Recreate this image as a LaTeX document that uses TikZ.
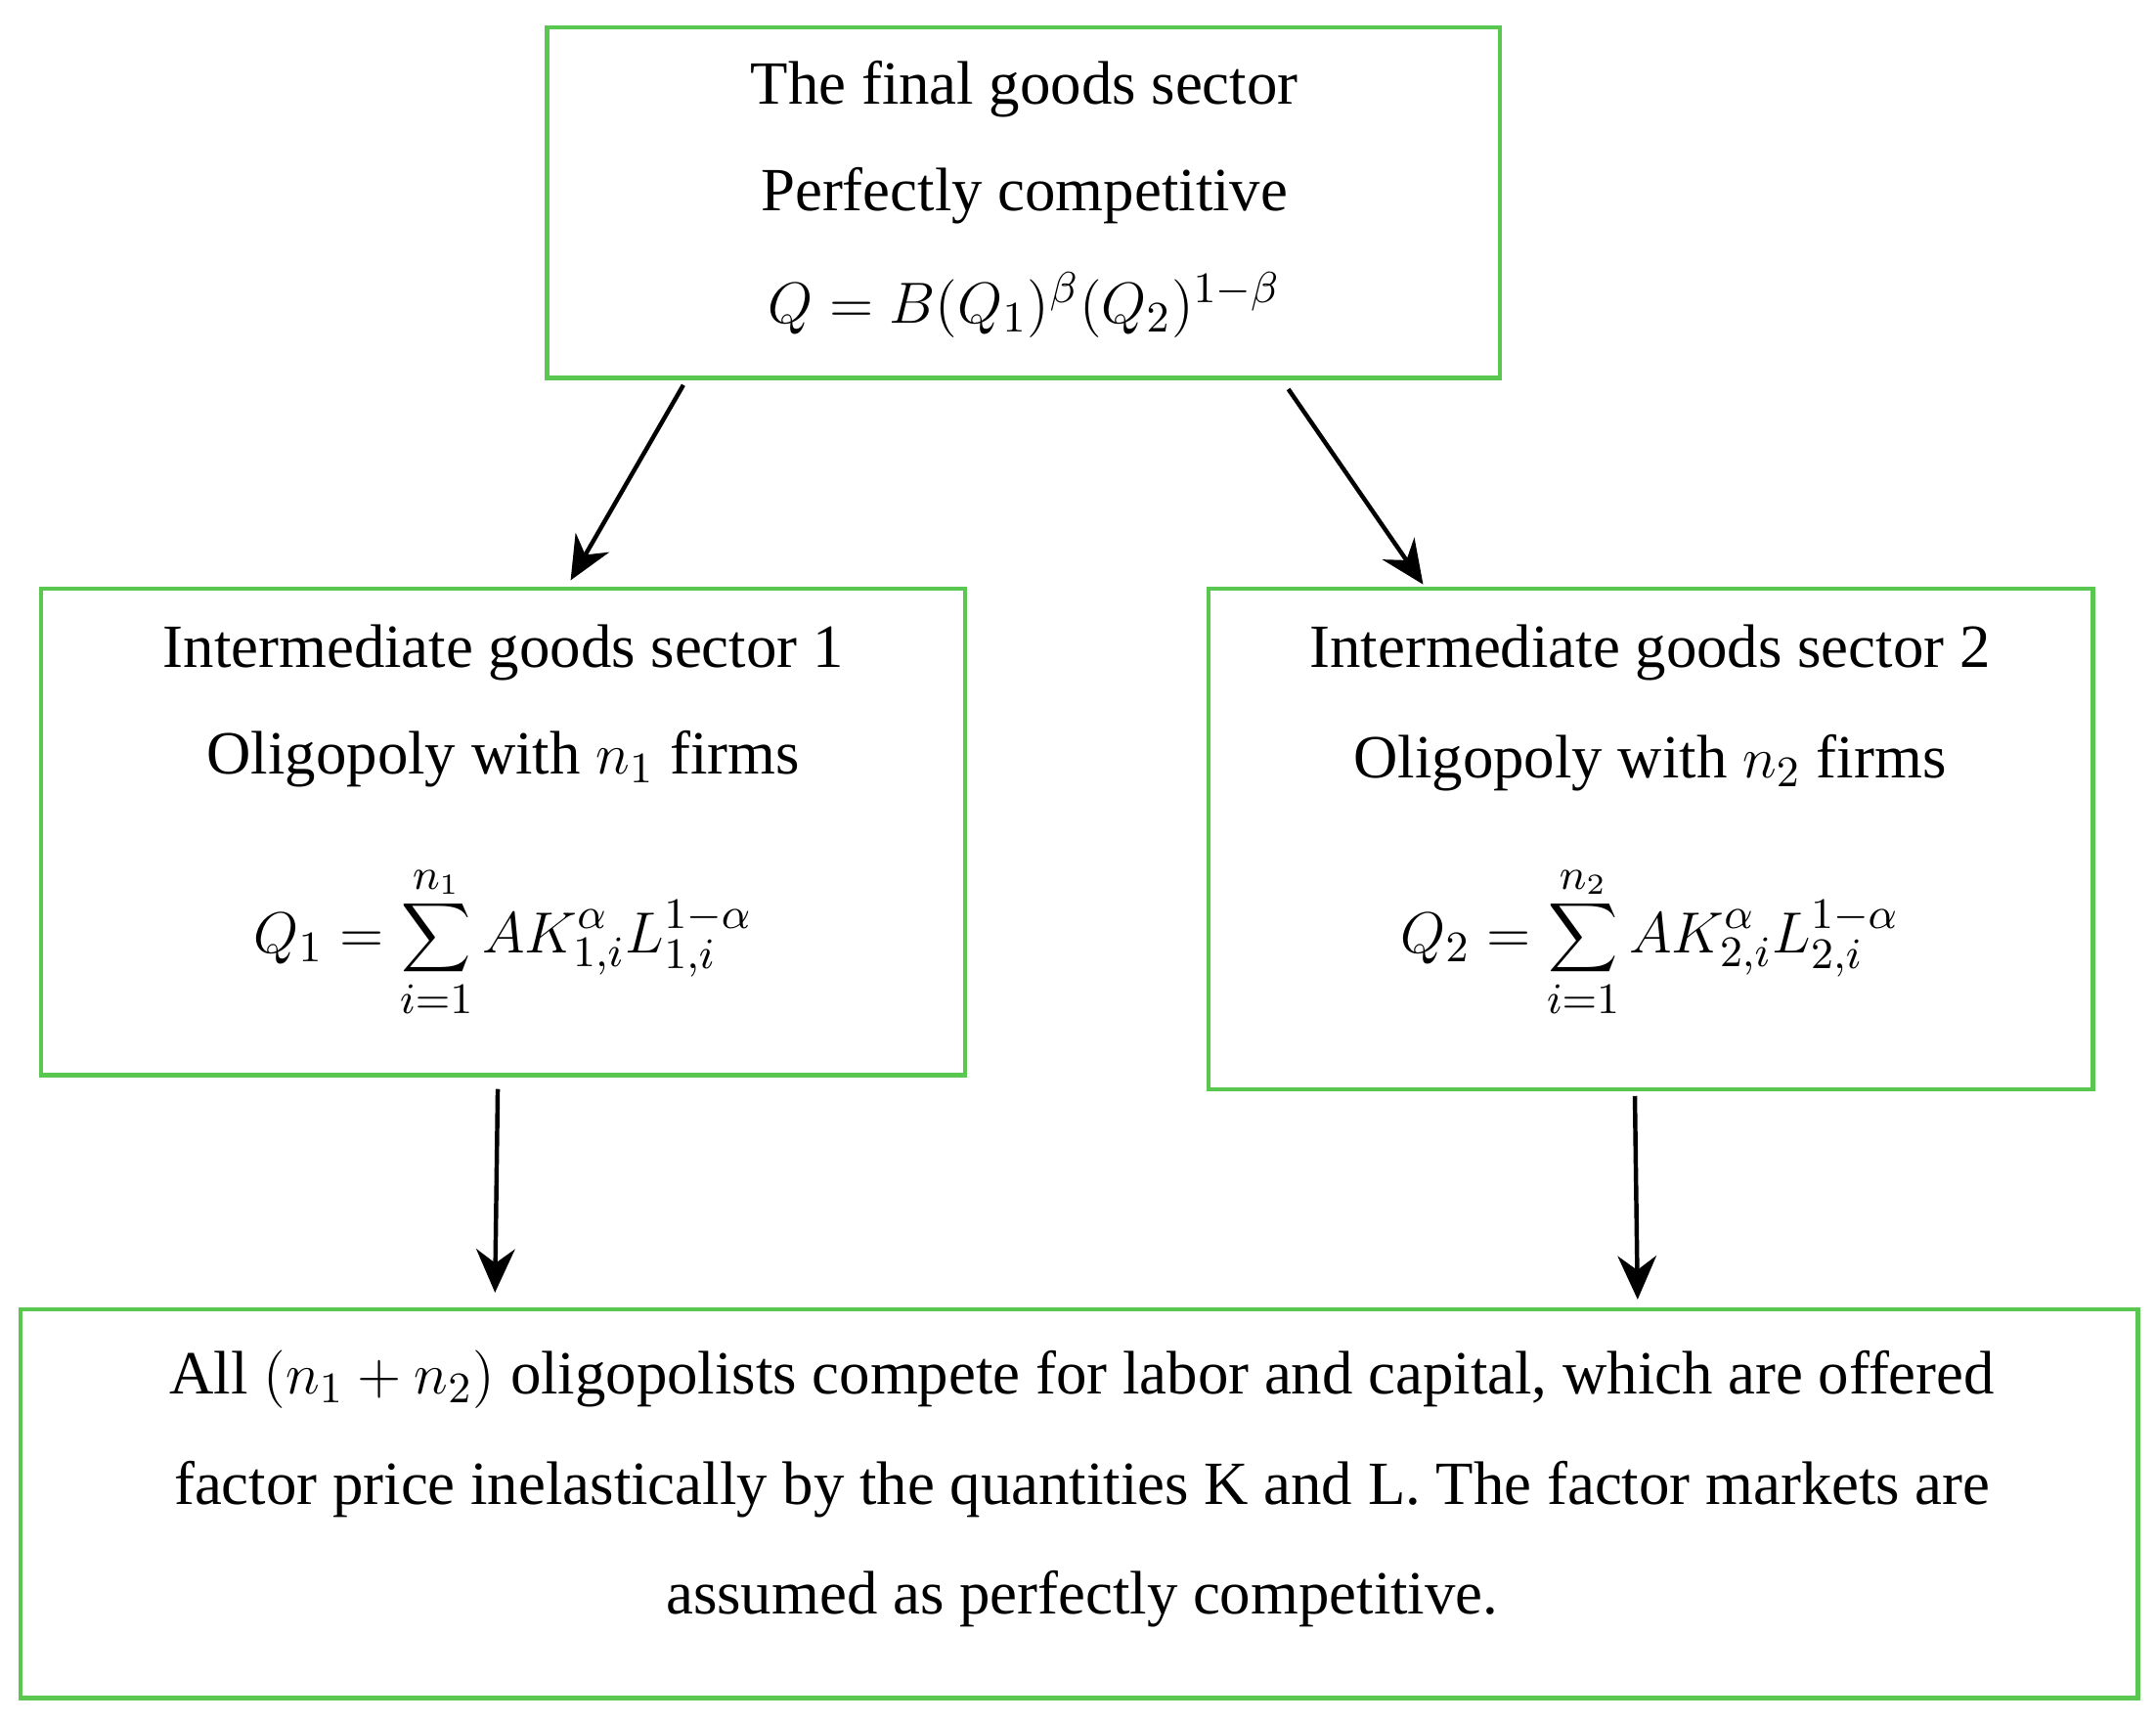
\documentclass[tikz,border=0pt]{standalone}
\usepackage{fontspec}
\setmainfont{Liberation Serif}
\usetikzlibrary{arrows.meta}
\definecolor{bx}{RGB}{90,200,80}
\begin{document}
\begin{tikzpicture}[x=0.01cm,y=-0.01cm,
  box/.style={draw=bx,line width=0.9pt},
  t/.style={font=\fontsize{12.7}{14}\selectfont,anchor=center,inner sep=0},
  ar/.style={-{Stealth[length=9pt,width=8pt]},line width=0.9pt}]
\useasboundingbox (0,0) rectangle (1568,1252);
\draw[box] (398,20) rectangle (1091,275);
\draw[box] (30,428) rectangle (702,782);
\draw[box] (879,428) rectangle (1522,792);
\draw[box] (15,952) rectangle (1555,1235);
\node[t] (a1) at (745,65) {The final goods sector};
\node[t] (a2) at (745,142) {Perfectly competitive};
\node[t] (a3) at (745,222) {$Q=B(Q_1)^{\beta}(Q_2)^{1-\beta}$};
\node[t] (b1) at (366,475) {Intermediate goods sector 1};
\node[t] (b2) at (366,552) {Oligopoly with $n_1$ firms};
\node[t] (b3) at (366,685) {$\displaystyle Q_1=\sum_{i=1}^{n_1}AK_{1,i}^{\alpha}L_{1,i}^{1-\alpha}$};
\node[t] (c1) at (1200,475) {Intermediate goods sector 2};
\node[t] (c2) at (1200,555) {Oligopoly with $n_2$ firms};
\node[t] (c3) at (1200,685) {$\displaystyle Q_2=\sum_{i=1}^{n_2}AK_{2,i}^{\alpha}L_{2,i}^{1-\alpha}$};
\node[t] (d1) at (787,1003) {All $(n_1+n_2)$ oligopolists compete for labor and capital, which are offered};
\node[t] (d2) at (787,1083) {factor price inelastically by the quantities K and L. The factor markets are};
\node[t] (d3) at (787,1163) {assumed as perfectly competitive.};
\coordinate (p1) at (497,280); \coordinate (q1) at (415,422);
\coordinate (p2) at (937,283); \coordinate (q2) at (1035,425);
\coordinate (p3) at (362,792); \coordinate (q3) at (360,940);
\coordinate (p4) at (1189,797); \coordinate (q4) at (1191,945);
\draw[ar] (p1) -- (q1);
\draw[ar] (p2) -- (q2);
\draw[ar] (p3) -- (q3);
\draw[ar] (p4) -- (q4);
\end{tikzpicture}
\end{document}
